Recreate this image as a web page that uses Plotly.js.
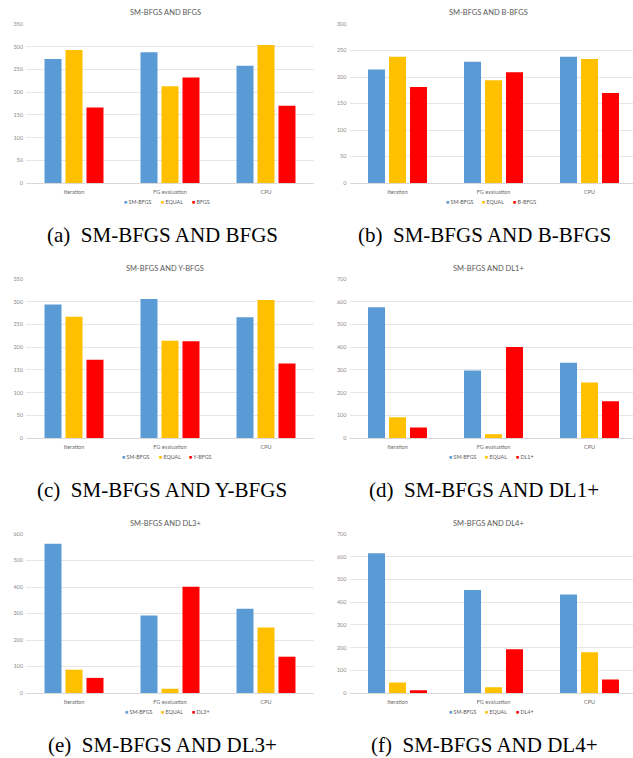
<!DOCTYPE html>
<html>
<head>
<meta charset="utf-8">
<script src="https://cdn.plot.ly/plotly-3.0.1.min.js"></script>
<style>
  html, body { margin: 0; padding: 0; overflow: hidden; background: #ffffff; }
  #chart { width: 640px; height: 758px; }
</style>
</head>
<body>
<div id="chart"></div>
<script>
// Categories shared by every panel
const categories = ['Iteration', 'FG evaluation', 'CPU'];

// Panel titles and captions
const panelTitles = ['SM-BFGS AND BFGS', 'SM-BFGS AND B-BFGS', 'SM-BFGS AND Y-BFGS',
                     'SM-BFGS AND DL1+', 'SM-BFGS AND DL3+', 'SM-BFGS AND DL4+'];
const captionTags = ['(a)', '(b)', '(c)', '(d)', '(e)', '(f)'];

// Series names (the third one changes per panel)
const baseName = 'SM-BFGS';
const equalName = 'EQUAL';
const rivalNames = ['BFGS', 'B-BFGS', 'Y-BFGS', 'DL1+', 'DL3+', 'DL4+'];

// Values per panel: [Iteration, FG evaluation, CPU]
const smA = [273, 288, 258], eqA = [293, 213, 304], rivalA = [166, 232, 170];
const smB = [214, 229, 238], eqB = [238, 194, 234], rivalB = [181, 209, 170];
const smC = [294, 306, 266], eqC = [267, 214, 304], rivalC = [172, 213, 164];
const smD = [576, 297, 331], eqD = [91, 16, 244],   rivalD = [46, 401, 162];
const smE = [563, 292, 318], eqE = [88, 16, 247],   rivalE = [57, 401, 137];
const smF = [615, 453, 434], eqF = [46, 25, 179],   rivalF = [12, 193, 59];

// Y axis extents and tick steps
const yMax  = [350, 300, 350, 700, 600, 700];
const yStep = [50, 50, 50, 100, 100, 100];

const smSets = [smA, smB, smC, smD, smE, smF];
const eqSets = [eqA, eqB, eqC, eqD, eqE, eqF];
const rivalSets = [rivalA, rivalB, rivalC, rivalD, rivalE, rivalF];

// Styling
const colors = ['#5B9BD5', '#FFC000', '#FF0000'];
const W = 640, H = 758;
const smallFont = 'Lato, "Open Sans", sans-serif';
const colX = [[26, 314], [349.5, 637.5]];
const rowY = [[24, 183], [279, 438], [534, 693]];
const titleX = [165, 488];
const legendX = [165, 489];
const captionX = [162, 484];

const px = x => x / W;
const py = y => 1 - y / H;

const measureCtx = document.createElement('canvas').getContext('2d');
function textWidth(txt, size) {
  measureCtx.font = size + 'px Lato';
  return measureCtx.measureText(txt).width;
}

const data = [];
const layout = {
  width: W, height: H,
  margin: { l: 0, r: 0, t: 0, b: 0 },
  paper_bgcolor: '#ffffff', plot_bgcolor: '#ffffff',
  showlegend: false,
  barmode: 'group',
  bargap: 0.344,
  bargroupgap: 0.19,
  annotations: []
};

for (let i = 0; i < 6; i++) {
  const col = i % 2, row = Math.floor(i / 2);
  const xa = i === 0 ? 'x' : 'x' + (i + 1);
  const ya = i === 0 ? 'y' : 'y' + (i + 1);
  const names = [baseName, equalName, rivalNames[i]];
  const sets = [smSets[i], eqSets[i], rivalSets[i]];

  sets.forEach((vals, k) => {
    data.push({
      type: 'bar', x: categories, y: vals, name: names[k],
      xaxis: xa, yaxis: ya,
      marker: { color: colors[k], line: { width: 0 } },
      hoverinfo: 'x+y+name'
    });
  });

  const xKey = i === 0 ? 'xaxis' : 'xaxis' + (i + 1);
  const yKey = i === 0 ? 'yaxis' : 'yaxis' + (i + 1);
  layout[xKey] = {
    domain: [px(colX[col][0]), px(colX[col][1])],
    anchor: ya,
    type: 'category',
    range: [-0.5, 2.5],
    showgrid: false,
    showline: true, linecolor: '#d9d9d9', linewidth: 1,
    ticks: '',
    ticklabelstandoff: 3,
    tickfont: { family: smallFont, size: 5.5, color: '#6b6b6b' },
    fixedrange: true
  };
  layout[yKey] = {
    domain: [py(rowY[row][1]), py(rowY[row][0])],
    anchor: xa,
    range: [0, yMax[i]],
    dtick: yStep[i], tick0: 0,
    showgrid: true, gridcolor: '#e6e6e6', gridwidth: 1,
    zeroline: false, showline: false,
    ticks: '',
    ticklabelstandoff: 2,
    tickfont: { family: smallFont, size: 5.5, color: '#8c8c8c' },
    fixedrange: true
  };

  // Panel title
  layout.annotations.push({
    xref: 'paper', yref: 'paper',
    x: px(titleX[col]), y: py(rowY[row][0] - 11),
    xanchor: 'center', yanchor: 'middle', showarrow: false,
    text: panelTitles[i],
    font: { family: smallFont, size: 7.5, color: '#595959' }
  });

  // Legend row: colored square + series name, centered under the panel
  const fs = 5.3, sq = '\u25A0';
  const widths = names.map(n => textWidth(sq + '\u00a0' + n, fs));
  const gap = 9;
  const total = widths.reduce((a, b) => a + b, 0) + gap * (names.length - 1);
  let cursor = legendX[col] - total / 2;
  names.forEach((n, k) => {
    layout.annotations.push({
      xref: 'paper', yref: 'paper',
      x: px(cursor), y: py(rowY[row][1] + 19),
      xanchor: 'left', yanchor: 'middle', showarrow: false,
      text: '<span style="color:' + colors[k] + '">' + sq + '</span>\u00a0' + n,
      font: { family: smallFont, size: fs, color: '#595959' }
    });
    cursor += widths[k] + gap;
  });

  // Caption under the panel
  layout.annotations.push({
    xref: 'paper', yref: 'paper',
    x: px(captionX[col]), y: py(rowY[row][1] + 52),
    xanchor: 'center', yanchor: 'middle', showarrow: false,
    text: captionTags[i] + '\u00a0\u00a0' + panelTitles[i],
    font: { family: '"Liberation Serif", "Times New Roman", serif', size: 21, color: '#000000' }
  });
}

Plotly.newPlot('chart', data, layout, { displayModeBar: false, staticPlot: true });
</script>
</body>
</html>
